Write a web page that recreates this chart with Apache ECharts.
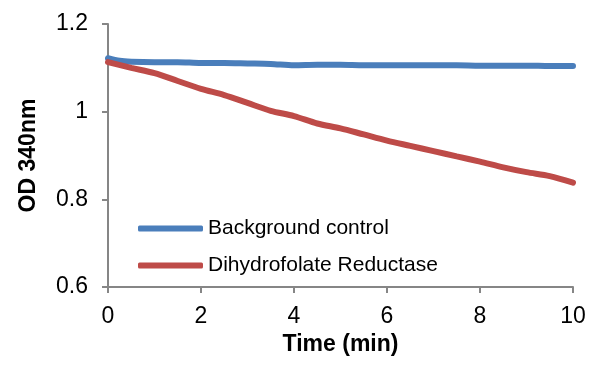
<!DOCTYPE html>
<html><head><meta charset="utf-8">
<script src="https://cdn.jsdelivr.net/npm/echarts@6/dist/echarts.min.js"></script>
<style>html,body{margin:0;padding:0;background:#fff}#c{width:600px;height:365px}</style>
</head><body><div id="c"></div>
<script>
const timeBlue = [0,0.25,0.5,1,1.5,2,2.5,3,3.5,4,4.5,5,5.5,6,6.5,7,7.5,8,8.5,9,9.5,10];
const backgroundControl = [1.122,1.116,1.114,1.113,1.113,1.111,1.111,1.110,1.109,1.106,1.107,1.107,1.106,1.106,1.106,1.106,1.106,1.105,1.105,1.105,1.104,1.104];
const timeRed = [0,0.5,1,1.5,2,2.5,3,3.5,4,4.5,5,5.5,6,6.5,7,7.5,8,8.5,9,9.5,10];
const dhfr = [1.113,1.100,1.088,1.070,1.052,1.038,1.020,1.002,0.990,0.973,0.962,0.948,0.934,0.922,0.910,0.898,0.886,0.873,0.862,0.853,0.838];
const seriesNames = ['Background control','Dihydrofolate Reductase'];

const chart = echarts.init(document.getElementById('c'));
const axisColor = '#868686';
const font = 'Liberation Sans, Arial, sans-serif';
chart.setOption({
  animation:false,
  grid:{left:108,right:27,top:24,bottom:78},
  legend:{
    orient:'vertical', left:133, top:213, itemGap:16,
    itemWidth:65, itemHeight:6, icon:'roundRect',
    textStyle:{fontFamily:font,fontSize:21,color:'#000',padding:[0,0,0,0]},
    data:seriesNames
  },
  xAxis:{type:'value',min:0,max:10,interval:2,
    name:'Time (min)',nameLocation:'middle',nameGap:41,
    nameTextStyle:{fontFamily:font,fontSize:23,fontWeight:'bold',color:'#000'},
    axisLine:{lineStyle:{color:axisColor,width:2}},
    axisTick:{show:true,length:6,lineStyle:{color:axisColor,width:2}},
    axisLabel:{fontFamily:font,fontSize:23,color:'#000',margin:18},
    splitLine:{show:false}},
  yAxis:{type:'value',min:0.6,max:1.2,interval:0.2,
    name:'OD 340nm',nameLocation:'middle',nameGap:68,nameRotate:90,
    nameTextStyle:{fontFamily:font,fontSize:23,fontWeight:'bold',color:'#000'},
    axisLine:{show:true,lineStyle:{color:axisColor,width:2}},
    axisTick:{show:true,length:6,lineStyle:{color:axisColor,width:2}},
    axisLabel:{fontFamily:font,fontSize:23,color:'#000',margin:20,
      formatter:v=>(+v.toFixed(1)).toString()},
    splitLine:{show:false}},
  series:[
    {name:seriesNames[0],type:'line',showSymbol:false,smooth:0.3,
     data:timeBlue.map((t,i)=>[t,backgroundControl[i]]),
     lineStyle:{color:'#4A7EBB',width:6,cap:'round'},itemStyle:{color:'#4A7EBB'}},
    {name:seriesNames[1],type:'line',showSymbol:false,smooth:0.3,
     data:timeRed.map((t,i)=>[t,dhfr[i]]),
     lineStyle:{color:'#BE4B48',width:6,cap:'round'},itemStyle:{color:'#BE4B48'}}
  ]
});
</script></body></html>
